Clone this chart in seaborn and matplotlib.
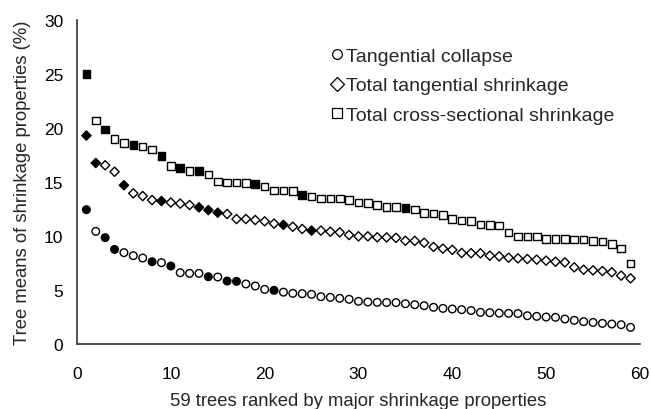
import numpy as np
import pandas as pd
import matplotlib
matplotlib.use("Agg")
import matplotlib.pyplot as plt
from matplotlib.lines import Line2D
import seaborn as sns

# Tree means (%) for 59 trees, ranked
tangential_collapse = [
    12.44, 10.43, 9.85, 8.76, 8.46, 8.18, 7.96, 7.62, 7.53, 7.22,
    6.60, 6.54, 6.54, 6.23, 6.20, 5.83, 5.80, 5.56, 5.37, 5.06,
    4.97, 4.80, 4.69, 4.66, 4.60, 4.38, 4.32, 4.23, 4.14, 3.95,
    3.89, 3.86, 3.84, 3.83, 3.73, 3.64, 3.55, 3.40, 3.30, 3.24,
    3.18, 3.10, 2.93, 2.90, 2.86, 2.84, 2.82, 2.62, 2.56, 2.50,
    2.47, 2.31, 2.19, 2.07, 2.00, 1.91, 1.85, 1.79, 1.54,
]
total_tangential = [
    19.30, 16.76, 16.55, 15.95, 14.70, 13.95, 13.70, 13.33, 13.24, 13.10,
    13.00, 12.87, 12.65, 12.40, 12.16, 12.04, 11.57, 11.57, 11.48, 11.36,
    11.15, 11.03, 10.86, 10.65, 10.50, 10.50, 10.40, 10.34, 10.09, 9.97,
    9.97, 9.88, 9.87, 9.83, 9.56, 9.55, 9.38, 8.99, 8.83, 8.72,
    8.43, 8.41, 8.40, 8.18, 8.12, 7.99, 7.93, 7.87, 7.81, 7.72,
    7.62, 7.56, 7.10, 6.88, 6.82, 6.76, 6.64, 6.33, 6.08,
]
total_cross_sectional = [
    25.00, 20.70, 19.85, 19.00, 18.60, 18.43, 18.30, 18.00, 17.40, 16.50,
    16.28, 16.00, 16.00, 15.70, 15.06, 14.97, 14.97, 14.90, 14.80, 14.60,
    14.20, 14.20, 14.15, 13.80, 13.67, 13.49, 13.49, 13.49, 13.36, 13.10,
    13.06, 12.87, 12.68, 12.68, 12.60, 12.47, 12.13, 12.10, 11.94, 11.57,
    11.45, 11.40, 11.05, 11.00, 10.96, 10.34, 9.94, 9.94, 9.94, 9.72,
    9.72, 9.72, 9.66, 9.66, 9.54, 9.48, 9.26, 8.86, 7.47,
]

# Ranks of highlighted (solid) trees in each property
filled_collapse = [1, 3, 4, 8, 10, 14, 16, 17, 21]
filled_tangential = [1, 2, 5, 9, 13, 14, 15, 22, 25]
filled_cross = [1, 3, 6, 9, 11, 13, 19, 24, 35]

labels = ["Tangential collapse", "Total tangential shrinkage",
          "Total cross-sectional shrinkage"]
markers = {labels[0]: "o", labels[1]: "D", labels[2]: "s"}
sizes = {labels[0]: 30, labels[1]: 22, labels[2]: 30}

rank = np.arange(1, 60)
frames = []
for lab, vals, filled in zip(labels,
                             [tangential_collapse, total_tangential, total_cross_sectional],
                             [filled_collapse, filled_tangential, filled_cross]):
    frames.append(pd.DataFrame({
        "rank": rank,
        "value": vals,
        "property": lab,
        "solid": np.isin(rank, filled),
    }))
df = pd.concat(frames, ignore_index=True)

sns.set_theme(style="white")
plt.rcParams["font.family"] = ["Liberation Sans", "DejaVu Sans"]

fig = plt.figure(figsize=(6.51, 4.10), dpi=100)
ax = fig.add_axes([0.1183, 0.1585, 0.8647, 0.7903])

for lab in labels:
    sub = df[df["property"] == lab]
    sns.scatterplot(data=sub, x="rank", y="value", hue="solid",
                    palette={True: "black", False: "white"},
                    marker=markers[lab], s=sizes[lab], edgecolor="black",
                    linewidth=1.0, legend=False, ax=ax, zorder=3)

ax.set_xlim(0, 60)
ax.set_ylim(0, 30)
ax.set_xticks(range(0, 61, 10))
ax.set_yticks(range(0, 31, 5))
ax.set_xlabel("59 trees ranked by major shrinkage properties", fontsize=13.3, labelpad=8)
ax.set_ylabel("Tree means of shrinkage properties (%)", fontsize=13.3, labelpad=9)
ax.tick_params(axis="both", direction="in", length=5, width=1, colors="#555555",
               labelsize=12.5, labelcolor="black")
ax.tick_params(axis="x", pad=16)
ax.tick_params(axis="y", pad=10)
for side in ["top", "right"]:
    ax.spines[side].set_visible(False)
for side in ["left", "bottom"]:
    ax.spines[side].set_color("#333333")
    ax.spines[side].set_linewidth(1.2)

handles = [Line2D([], [], linestyle="none", marker=markers[lab], markersize=ms,
                  markerfacecolor="white", markeredgecolor="black", markeredgewidth=0.9)
           for lab, ms in zip(labels, [7, 7, 7])]
ax.legend(handles, labels, loc="upper left", bbox_to_anchor=(0.437, 0.94),
          frameon=False, fontsize=14, handlelength=0.6, handletextpad=0.2,
          labelspacing=0.62, borderaxespad=0)

fig.savefig("out.png", dpi=100)
